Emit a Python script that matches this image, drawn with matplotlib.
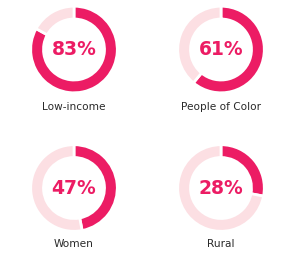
import matplotlib
matplotlib.use('Agg')
import matplotlib.pyplot as plt

labels = ['Low-income', 'People of Color', 'Women', 'Rural']
values = [83, 61, 47, 28]
pct_labels = ['83%', '61%', '47%', '28%']

pink = '#EC1C64'
light = '#FCDFE3'

fig = plt.figure(figsize=(3.0, 2.56), dpi=100)
ax = fig.add_axes([0, 0, 1, 1])

# donut centres in pixels (y from bottom)
centres = [(74, 206.5), (221, 206.5), (74, 68), (221, 68)]
label_y = [107, 107, 244, 244]

for i in range(4):
    cx, cy = centres[i]
    ax.pie([values[i], 100 - values[i]], colors=[pink, light], startangle=90,
           counterclock=False, center=(cx, cy), radius=43.3,
           wedgeprops=dict(width=12.8, edgecolor='white', linewidth=2.0),
           frame=True)
    ax.text(cx, cy, pct_labels[i], ha='center', va='center', color=pink,
            fontsize=13.5, fontweight='bold', family='DejaVu Sans')
    ax.text(cx, 256 - label_y[i], labels[i], ha='center', va='center',
            color='#2a2a2a', fontsize=7.6, family='DejaVu Sans')

ax.set_xlim(0, 300)
ax.set_ylim(0, 256)
ax.set_aspect('equal')
ax.axis('off')

plt.savefig('out.png', dpi=100)
